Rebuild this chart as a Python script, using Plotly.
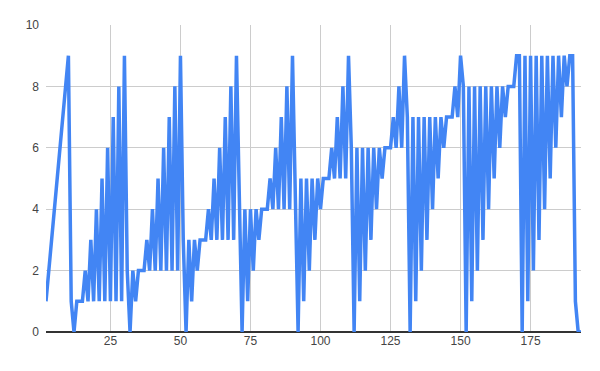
import plotly.graph_objects as go

# Row index (x) and values (y)
rows = list(range(2, 194))
values = [
    1, 2, 3, 4, 5, 6, 7, 8, 9,
    1, 0, 1, 1, 1, 2, 1, 3, 1, 4, 1, 5, 1, 6, 1, 7, 1, 8, 1, 9,
    2, 0, 2, 1, 2, 2, 2, 3, 2, 4, 2, 5, 2, 6, 2, 7, 2, 8, 2, 9,
    3, 0, 3, 1, 3, 2, 3, 3, 3, 4, 3, 5, 3, 6, 3, 7, 3, 8, 3, 9,
    4, 0, 4, 1, 4, 2, 4, 3, 4, 4, 4, 5, 4, 6, 4, 7, 4, 8, 4, 9,
    5, 0, 5, 1, 5, 2, 5, 3, 5, 4, 5, 5, 5, 6, 5, 7, 5, 8, 5, 9,
    6, 0, 6, 1, 6, 2, 6, 3, 6, 4, 6, 5, 6, 6, 6, 7, 6, 8, 6, 9,
    7, 0, 7, 1, 7, 2, 7, 3, 7, 4, 7, 5, 7, 6, 7, 7, 7, 8, 7, 9,
    8, 0, 8, 1, 8, 2, 8, 3, 8, 4, 8, 5, 8, 6, 8, 7, 8, 8, 8, 9,
    9, 0, 9, 1, 9, 2, 9, 3, 9, 4, 9, 5, 9, 6, 9, 7, 9, 8, 9, 9,
    1, 0, 0,
]
x_ticks = [25, 50, 75, 100, 125, 150, 175]
y_ticks = [0, 2, 4, 6, 8, 10]

fig = go.Figure()
fig.add_trace(go.Scatter(
    x=rows, y=values, mode="lines",
    line=dict(color="#4285F4", width=3.5),
    showlegend=False,
))

font = dict(family="Arial, Liberation Sans, sans-serif", size=12, color="#444444")
fig.update_layout(
    width=600, height=371,
    margin=dict(l=46, r=19, t=25, b=39),
    paper_bgcolor="white", plot_bgcolor="white",
    font=font,
)
fig.update_xaxes(
    range=[2, 193], tickvals=x_ticks, ticktext=[str(v) for v in x_ticks],
    showgrid=True, gridcolor="#cccccc", gridwidth=1,
    zeroline=False, showline=False, ticks="", tickfont=font,
)
fig.update_yaxes(
    range=[0, 10], tickvals=y_ticks, ticktext=[str(v) for v in y_ticks],
    showgrid=True, gridcolor="#cccccc", gridwidth=1,
    zeroline=True, zerolinecolor="#333333", zerolinewidth=1.5,
    showline=False, ticks="", tickfont=font, ticklabelstandoff=6,
)
fig.write_html("out.html")
